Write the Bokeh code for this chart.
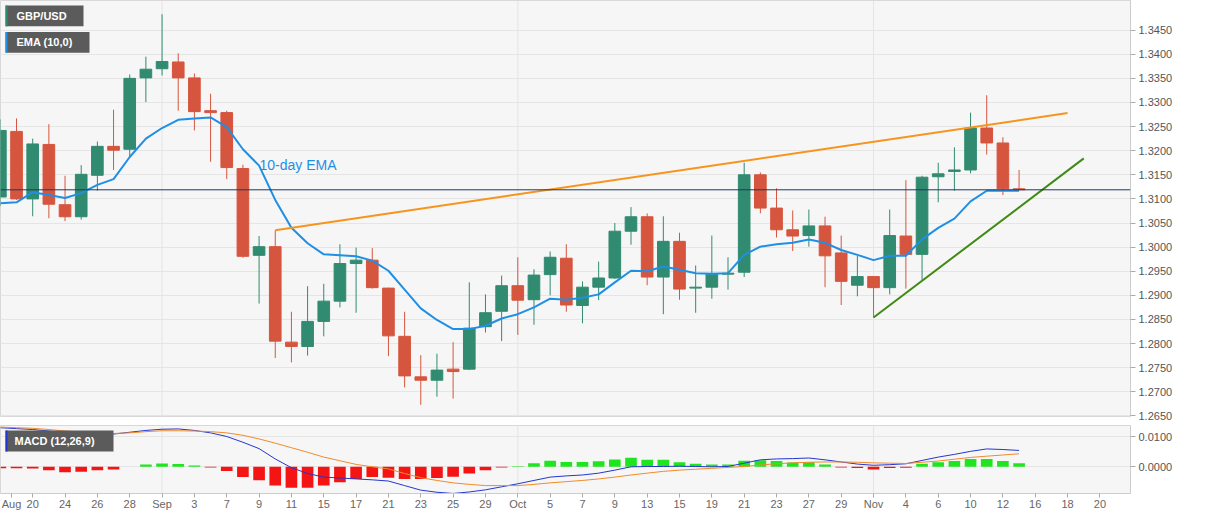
import numpy as np
from bokeh.plotting import figure
from bokeh.models import (Range1d, FixedTicker, Span, Label, BoxAnnotation,
                          PrintfTickFormatter, ColumnDataSource)
from bokeh.layouts import column
from bokeh.embed import file_html
from bokeh.resources import INLINE

# ---------------- data ----------------
dates = [
    "2020-08-18", "2020-08-19", "2020-08-20", "2020-08-21", "2020-08-24", "2020-08-25", "2020-08-26",
    "2020-08-27", "2020-08-28", "2020-08-31",
    "2020-09-01", "2020-09-02", "2020-09-03", "2020-09-04", "2020-09-07", "2020-09-08", "2020-09-09",
    "2020-09-10", "2020-09-11", "2020-09-14", "2020-09-15", "2020-09-16", "2020-09-17", "2020-09-18",
    "2020-09-21", "2020-09-22", "2020-09-23", "2020-09-24", "2020-09-25", "2020-09-28", "2020-09-29",
    "2020-09-30",
    "2020-10-01", "2020-10-02", "2020-10-05", "2020-10-06", "2020-10-07", "2020-10-08", "2020-10-09",
    "2020-10-12", "2020-10-13", "2020-10-14", "2020-10-15", "2020-10-16", "2020-10-19", "2020-10-20",
    "2020-10-21", "2020-10-22", "2020-10-23", "2020-10-26", "2020-10-27", "2020-10-28", "2020-10-29",
    "2020-10-30",
    "2020-11-02", "2020-11-03", "2020-11-04", "2020-11-05", "2020-11-06", "2020-11-09", "2020-11-10",
    "2020-11-11", "2020-11-12", "2020-11-13",
]

opens = [
    1.3104, 1.3240, 1.3100, 1.3213, 1.3088, 1.3063, 1.3149, 1.3209, 1.3203, 1.3351,
    1.3370, 1.3384, 1.3351, 1.3283, 1.3279, 1.3163, 1.2983, 1.3001, 1.2803, 1.2794, 1.2846,
    1.2888, 1.2966, 1.2973, 1.2915, 1.2815, 1.2731, 1.2724, 1.2747, 1.2747, 1.2835, 1.2867,
    1.2920, 1.2891, 1.2943, 1.2977, 1.2879, 1.2917, 1.2936, 1.3033, 1.3063, 1.2938, 1.3012,
    1.2915, 1.2917, 1.2944, 1.2948, 1.3150, 1.3081, 1.3036, 1.3024, 1.3044, 1.2988, 1.2921,
    1.2939, 1.2916, 1.3023, 1.2985, 1.3146, 1.3157, 1.3160, 1.3247, 1.3216, 1.3121,
]
highs = [
    1.3265, 1.3267, 1.3225, 1.3255, 1.3148, 1.3170, 1.3219, 1.3285, 1.3358, 1.3395,
    1.3483, 1.3402, 1.3360, 1.3318, 1.3283, 1.3171, 1.3023, 1.3035, 1.2866, 1.2919, 1.2924,
    1.3006, 1.2999, 1.2998, 1.2916, 1.2866, 1.2776, 1.2779, 1.2803, 1.2927, 1.2902, 1.2941,
    1.2979, 1.2954, 1.2991, 1.3006, 1.2929, 1.2970, 1.3050, 1.3083, 1.3070, 1.3064, 1.3030,
    1.2962, 1.3024, 1.2979, 1.3175, 1.3155, 1.3122, 1.3076, 1.3078, 1.3063, 1.3024, 1.2982,
    1.2940, 1.3078, 1.3139, 1.3148, 1.3175, 1.3207, 1.3279, 1.3315, 1.3228, 1.3160,
]
lows = [
    1.3085, 1.3098, 1.3064, 1.3060, 1.3054, 1.3057, 1.3117, 1.3160, 1.3186, 1.3301,
    1.3356, 1.3283, 1.3242, 1.3177, 1.3141, 1.2978, 1.2883, 1.2770, 1.2761, 1.2775, 1.2815,
    1.2875, 1.2864, 1.2914, 1.2774, 1.2709, 1.2673, 1.2690, 1.2686, 1.2745, 1.2823, 1.2805,
    1.2818, 1.2839, 1.2900, 1.2866, 1.2842, 1.2890, 1.2934, 1.3005, 1.2921, 1.2861, 1.2891,
    1.2864, 1.2893, 1.2912, 1.2938, 1.3070, 1.3020, 1.2992, 1.3001, 1.2917, 1.2880, 1.2898,
    1.2854, 1.2902, 1.2914, 1.2932, 1.3093, 1.3117, 1.3153, 1.3192, 1.3108, 1.3118,
]
closes = [
    1.3242, 1.3100, 1.3214, 1.3089, 1.3063, 1.3151, 1.3209, 1.3201, 1.3350, 1.3369,
    1.3385, 1.3351, 1.3281, 1.3279, 1.3165, 1.2981, 1.3001, 1.2805, 1.2794, 1.2846, 1.2888,
    1.2966, 1.2973, 1.2916, 1.2816, 1.2733, 1.2724, 1.2745, 1.2742, 1.2832, 1.2864, 1.2920,
    1.2890, 1.2942, 1.2979, 1.2880, 1.2917, 1.2936, 1.3033, 1.3063, 1.2938, 1.3012, 1.2913,
    1.2917, 1.2944, 1.2946, 1.3150, 1.3081, 1.3036, 1.3023, 1.3044, 1.2982, 1.2929, 1.2939,
    1.2916, 1.3024, 1.2985, 1.3145, 1.3152, 1.3160, 1.3247, 1.3216, 1.3121, 1.31189,
]
ema10 = [
    1.3091, 1.3093, 1.3114, 1.3108, 1.3102, 1.3112, 1.3129, 1.3141, 1.3187, 1.3225,
    1.3247, 1.3264, 1.3267, 1.3269, 1.3249, 1.3203, 1.3169, 1.3098, 1.3040, 1.3008, 1.2985,
    1.2983, 1.2981, 1.2972, 1.2951, 1.2912, 1.2873, 1.2849, 1.2830, 1.2830, 1.2837, 1.2852,
    1.2861, 1.2875, 1.2893, 1.2891, 1.2895, 1.2902, 1.2927, 1.2951, 1.2950, 1.2960, 1.2953,
    1.2946, 1.2945, 1.2946, 1.2984, 1.3001, 1.3006, 1.3009, 1.3016, 1.3009, 1.2994, 1.2984,
    1.2973, 1.2982, 1.2982, 1.3016, 1.3040, 1.3059, 1.3095, 1.3117, 1.3117, 1.3117,
]
macd_line = [
    0.0129, 0.0126, 0.0123, 0.0118, 0.0112, 0.0109, 0.0107, 0.0108, 0.0114, 0.0120,
    0.0124, 0.0125, 0.0120, 0.0112, 0.0100, 0.0081, 0.0060, 0.0026, -0.0003, -0.0022, -0.0034,
    -0.0037, -0.0040, -0.0043, -0.0047, -0.0062, -0.0077, -0.0084, -0.0088, -0.0083, -0.0076, -0.0066,
    -0.0056, -0.0045, -0.0034, -0.0030, -0.0027, -0.0021, -0.0011, 0.0000, 0.0001, 0.0001, 0.0002,
    0.0001, 0.0000, 0.0001, 0.0012, 0.0023, 0.0026, 0.0027, 0.0029, 0.0023, 0.0016, 0.0009,
    0.0005, 0.0007, 0.0010, 0.0021, 0.0032, 0.0041, 0.0051, 0.0059, 0.0057, 0.0054,
]
signal_line = [
    0.0131, 0.0129, 0.0127, 0.0123, 0.0118, 0.0115, 0.0112, 0.0110, 0.0112, 0.0116,
    0.0119, 0.0119, 0.0118, 0.0116, 0.0112, 0.0104, 0.0092, 0.0078, 0.0063, 0.0048, 0.0032,
    0.0020, 0.0008, 0.0000, -0.0007, -0.0022, -0.0036, -0.0045, -0.0053, -0.0058, -0.0062, -0.0062,
    -0.0062, -0.0058, -0.0053, -0.0049, -0.0045, -0.0040, -0.0034, -0.0027, -0.0021, -0.0015, -0.0011,
    -0.0008, -0.0005, -0.0002, 0.0001, 0.0006, 0.0010, 0.0013, 0.0015, 0.0016, 0.0016, 0.0015,
    0.0013, 0.0012, 0.0011, 0.0015, 0.0019, 0.0025, 0.0031, 0.0035, 0.0039, 0.0043,
]
macd_hist = [
    -0.0005, -0.0005, -0.0006, -0.0011, -0.0018, -0.0016, -0.0011, -0.0009, 0.0000, 0.0008,
    0.0011, 0.0009, 0.0004, -0.0002, -0.0014, -0.0034, -0.0044, -0.0062, -0.0069, -0.0069, -0.0062,
    -0.0051, -0.0040, -0.0034, -0.0036, -0.0040, -0.0040, -0.0037, -0.0033, -0.0022, -0.0011, -0.0002,
    0.0002, 0.0012, 0.0020, 0.0016, 0.0016, 0.0018, 0.0024, 0.0030, 0.0023, 0.0023, 0.0015,
    0.0010, 0.0008, 0.0008, 0.0020, 0.0022, 0.0019, 0.0014, 0.0015, 0.0008, -0.0002, -0.0004,
    -0.0009, -0.0004, -0.0003, 0.0010, 0.0015, 0.0019, 0.0026, 0.0026, 0.0019, 0.0012,
]
# x-axis labels: one every two trading days, starting at 2020-08-20 (day 0)
month_label_left = "Aug"
tick_labels = ["20", "24", "26", "28", "Sep", "3", "7", "9", "11", "15", "17", "21", "23",
               "25", "29", "Oct", "5", "7", "9", "13", "15", "19", "21", "23", "27", "29",
               "Nov", "4", "6", "10", "12", "16", "18", "20"]
price_ticks = [1.2650, 1.2700, 1.2750, 1.2800, 1.2850, 1.2900, 1.2950, 1.3000, 1.3050,
               1.3100, 1.3150, 1.3200, 1.3250, 1.3300, 1.3350, 1.3400, 1.3450]
macd_ticks = [0.0, 0.01]
# trend lines (trading-day index, price)
resist_x = [15, 64]
resist_y = [1.3035, 1.3278]
support_x = [52, 65]
support_y = [1.2854, 1.3184]

# ---------------- layout constants ----------------
FONT = "Liberation Sans"
FRAME_W = 1130
MAIN_H = 416
MACD_H = 68
P1_BOTTOM = 7
P2_TOP = 2
XL, XR = -1.9913, 67.891
P_TOP, P_BOT = 1.351148, 1.264877
M_TOP, M_BOT = 0.01363, -0.00881
M_PX = 3030.0          # pixels per MACD unit
P2_FRAME_TOP = MAIN_H + P1_BOTTOM + P2_TOP

GREEN = "#318b71"
RED = "#d6553e"
EMA_BLUE = "#1f8fe5"
ORANGE = "#f7941d"
TREND_GREEN = "#3f8a14"
NAVY = "#1f3a60"
BG = "#f6f6f6"
GRID = "#e5e5e5"

def px2x(px):
    return XL + px * (XR - XL) / FRAME_W

def ref2price(py):
    # vertical position in the reference's main panel -> price
    return P_TOP - py * (P_TOP - P_BOT) / 421.0

def py2m(py):
    return M_TOP - (py - P2_FRAME_TOP) / M_PX

n = len(dates)
xs = np.arange(n) - 2
o = np.array(opens); h = np.array(highs); l = np.array(lows); c = np.array(closes)
inc = c >= o
cols = np.where(inc, GREEN, RED)
month_starts = [int(xs[i]) for i in range(1, n) if dates[i][5:7] != dates[i - 1][5:7]]

def style_axis(ax):
    ax.axis_line_color = "#cccccc"
    ax.major_tick_line_color = "#aaaaaa"
    ax.minor_tick_line_color = None
    ax.major_tick_in = 0
    ax.major_label_text_font = FONT
    ax.major_label_text_font_size = "11px"
    ax.major_label_text_color = "#555555"

# ---------------- main price panel ----------------
p1 = figure(frame_width=FRAME_W, frame_height=MAIN_H,
            x_range=Range1d(XL, XR), y_range=Range1d(P_BOT, P_TOP),
            x_axis_location=None, y_axis_location="right",
            output_backend="svg", toolbar_location=None,
            min_border_left=0, min_border_top=0, min_border_bottom=P1_BOTTOM, min_border_right=61,
            background_fill_color=BG, border_fill_color="white",
            outline_line_color="#d8d8d8")
pt = FixedTicker(ticks=price_ticks)
p1.yaxis.ticker = pt
p1.ygrid.ticker = pt
p1.yaxis.formatter = PrintfTickFormatter(format="%.4f")
style_axis(p1.yaxis[0])
p1.yaxis.major_tick_out = 5
p1.yaxis.major_label_standoff = 3
p1.ygrid.grid_line_color = GRID
p1.xgrid.grid_line_color = None
for m in month_starts:
    p1.add_layout(Span(location=m, dimension="height", line_color=GRID, line_width=1, level="underlay"))

src = ColumnDataSource(dict(x=xs, top=np.maximum(o, c), bottom=np.minimum(o, c),
                            high=h, low=l, color=cols))
p1.segment(x0="x", y0="low", x1="x", y1="high", line_color="color", line_width=1, source=src)
p1.vbar(x="x", width=0.72, top="top", bottom="bottom", fill_color="color",
        line_color="color", line_width=1, source=src)

p1.line(xs, ema10, line_color=EMA_BLUE, line_width=2)
p1.line(resist_x, resist_y, line_color=ORANGE, line_width=2)
p1.line(support_x, support_y, line_color=TREND_GREEN, line_width=2)

p1.add_layout(Span(location=closes[-1], dimension="width", line_color=NAVY, line_width=1))

p1.add_layout(Label(x=px2x(259), y=ref2price(166), text="10-day EMA", text_color=EMA_BLUE,
                    text_font=FONT, text_font_size="14px", text_baseline="alphabetic"))

# current price marker on the axis
p1.add_layout(Label(x=px2x(1134), y=closes[-1], text=f"{closes[-1]:.6f}", text_color="white",
                    text_font=FONT, text_font_size="11px", text_font_style="bold",
                    text_baseline="middle", text_align="left",
                    background_fill_color=NAVY, padding=3, level="overlay"))

# indicator tags
for (t, yb, yt, stripe, w) in [("GBP/USD", 5, 26, GREEN, 78), ("EMA (10,0)", 32, 53, EMA_BLUE, 84)]:
    p1.add_layout(BoxAnnotation(left=px2x(5), right=px2x(5 + w), top=ref2price(yb), bottom=ref2price(yt),
                                fill_color="#5b5b5b", fill_alpha=1.0, line_color=None, level="overlay"))
    p1.add_layout(BoxAnnotation(left=px2x(5), right=px2x(7), top=ref2price(yb), bottom=ref2price(yt),
                                fill_color=stripe, fill_alpha=1.0, line_color=None, level="overlay"))
    p1.add_layout(Label(x=px2x(16), y=ref2price((yb + yt) / 2), text=t, text_color="white",
                        text_font=FONT, text_font_size="11px", text_font_style="bold",
                        text_baseline="middle", level="overlay"))

# ---------------- MACD panel ----------------
p2 = figure(frame_width=FRAME_W, frame_height=MACD_H,
            x_range=p1.x_range, y_range=Range1d(M_BOT, M_TOP),
            y_axis_location="right", output_backend="svg", toolbar_location=None,
            min_border_left=0, min_border_top=P2_TOP, min_border_bottom=0, min_border_right=61,
            background_fill_color=BG, border_fill_color="white",
            outline_line_color="#d8d8d8")
mt = FixedTicker(ticks=macd_ticks)
p2.yaxis.ticker = mt
p2.ygrid.ticker = mt
p2.yaxis.formatter = PrintfTickFormatter(format="%.4f")
style_axis(p2.yaxis[0])
p2.yaxis.major_tick_out = 5
p2.yaxis.major_label_standoff = 3
p2.ygrid.grid_line_color = GRID

# date ticks every two trading days, plus the month name at the far left
tick_pos = list(range(0, 2 * len(tick_labels), 2))
aug_pos = round(px2x(11), 4)
xt = FixedTicker(ticks=[aug_pos] + tick_pos)
p2.xaxis.ticker = xt
p2.xgrid.grid_line_color = None
overrides = {t: lab for t, lab in zip(tick_pos, tick_labels)}
overrides[aug_pos] = month_label_left
p2.xaxis.major_label_overrides = overrides
style_axis(p2.xaxis[0])
p2.xaxis.major_tick_out = 4
p2.xaxis.major_label_standoff = 0
p2.xaxis.major_label_text_color = "#666666"
for m in month_starts:
    p2.add_layout(Span(location=m, dimension="height", line_color=GRID, line_width=1, level="underlay"))

hist = np.array(macd_hist)
hcols = np.where(hist >= 0, "#1fe51f", "#f41414")
p2.vbar(x=xs, top=hist, bottom=0, width=0.72, fill_color=hcols, line_color=None)
p2.line(xs, macd_line, line_color="#2436d0", line_width=1)
p2.line(xs, signal_line, line_color="#f28a2a", line_width=1)

tag_top = P2_FRAME_TOP + 5
p2.add_layout(BoxAnnotation(left=px2x(5), right=px2x(113), top=py2m(tag_top), bottom=py2m(tag_top + 21),
                            fill_color="#5b5b5b", fill_alpha=1.0, line_color=None, level="overlay"))
p2.add_layout(BoxAnnotation(left=px2x(5), right=px2x(7), top=py2m(tag_top), bottom=py2m(tag_top + 21),
                            fill_color="#2436d0", fill_alpha=1.0, line_color=None, level="overlay"))
p2.add_layout(Label(x=px2x(14), y=py2m(tag_top + 10.5), text="MACD (12,26,9)", text_color="white",
                    text_font=FONT, text_font_size="11px", text_font_style="bold",
                    text_baseline="middle", level="overlay"))

layout = column(p1, p2, spacing=0)
open("out.html", "w").write(file_html(layout, INLINE))
